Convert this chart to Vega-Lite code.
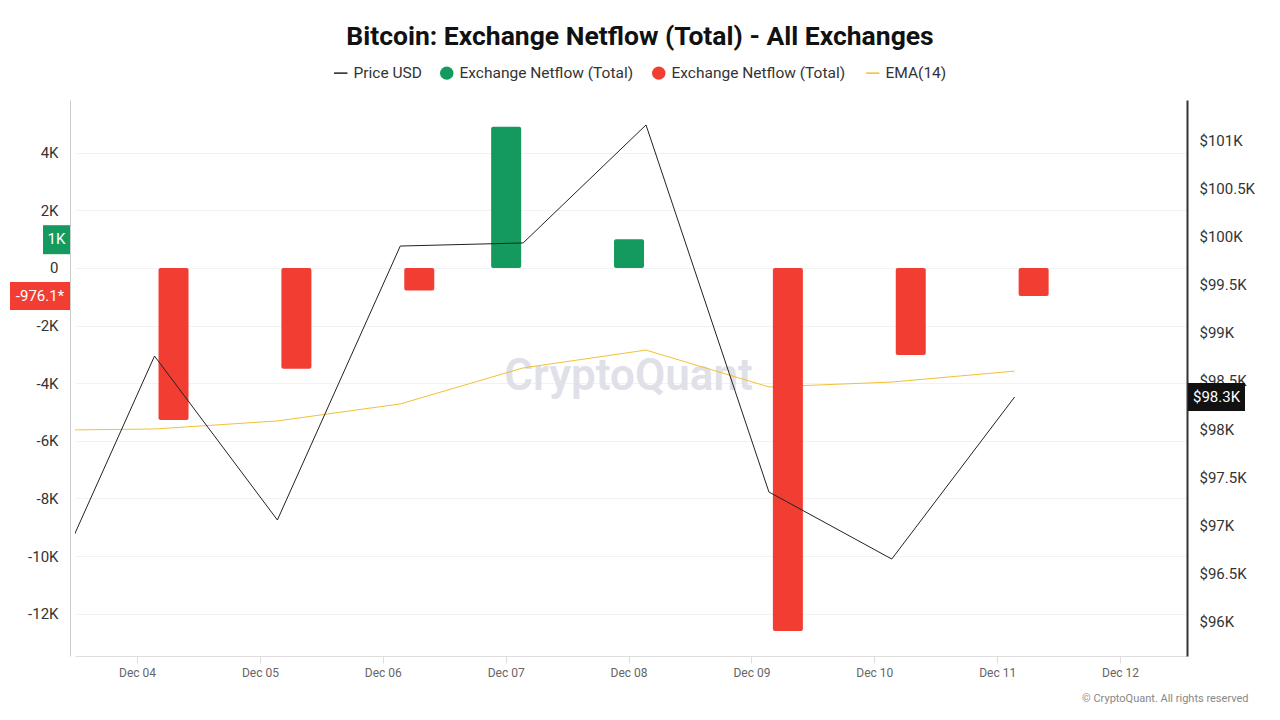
{
  "$schema": "https://vega.github.io/schema/vega-lite/v6.json",
  "width": 1112,
  "height": 556,
  "autosize": {"type": "none"},
  "padding": {"left": 75, "top": 100, "right": 93, "bottom": 64},
  "background": "white",
  "config": {"font": "Roboto", "view": {"stroke": null}},
  "title": {
    "text": "Bitcoin: Exchange Netflow (Total) - All Exchanges",
    "fontSize": 26.5,
    "fontWeight": "bold",
    "color": "#111111",
    "anchor": "middle",
    "frame": "group",
    "dx": 9,
    "offset": 15
  },
  "data": {
    "values": [
      {"date": "2024-12-03T03:25:00", "price": 95917, "netflow": null, "ema": -5640},
      {"date": "2024-12-04T03:25:00", "price": 98759, "netflow": -5280, "ema": -5590},
      {"date": "2024-12-05T03:25:00", "price": 97058, "netflow": -3500, "ema": -5310},
      {"date": "2024-12-06T03:25:00", "price": 99900, "netflow": -780, "ema": -4720},
      {"date": "2024-12-07T03:25:00", "price": 99932, "netflow": 4900, "ema": -3470},
      {"date": "2024-12-08T03:25:00", "price": 101156, "netflow": 1000, "ema": -2850},
      {"date": "2024-12-09T03:25:00", "price": 97349, "netflow": -12600, "ema": -4130},
      {"date": "2024-12-10T03:25:00", "price": 96653, "netflow": -3020, "ema": -3960},
      {"date": "2024-12-11T03:25:00", "price": 98334, "netflow": -976.1, "ema": -3580}
    ]
  },
  "layer": [
    {
      "layer": [
        {
          "data": {"values": [{"t": "CryptoQuant"}]},
          "mark": {"type": "text", "fontSize": 44, "fontWeight": 600, "color": "#e0e0e8", "align": "center", "baseline": "middle"},
          "encoding": {
            "x": {
              "datum": {"year": 2024, "month": 12, "date": 8},
              "type": "temporal",
              "scale": {"domain": [{"year": 2024, "month": 12, "date": 3, "hours": 11, "minutes": 53}, {"year": 2024, "month": 12, "date": 12, "hours": 13, "minutes": 5}], "padding": 0, "nice": false},
              "axis": {
                "orient": "bottom",
                "tickCount": {"interval": "day", "step": 1},
                "format": "%b %d",
                "labelFontSize": 12,
                "labelColor": "#666666",
                "tickColor": "#dddddd",
                "tickSize": 7,
                "domainColor": "#dddddd",
                "labelPadding": 4,
                "grid": false,
                "title": "© CryptoQuant. All rights reserved",
                "titleFontSize": 11,
                "titleColor": "#888888",
                "titleFontWeight": "normal",
                "titleAnchor": "end",
                "titleAlign": "right",
                "titleX": 1173,
                "titleY": 42,
                "titleBaseline": "middle"
              }
            },
            "y": {
              "datum": -3800,
              "type": "quantitative",
              "scale": {"domain": [-13472, 5833], "nice": false, "zero": false},
              "axis": {
                "orient": "left",
                "values": [-12000, -10000, -8000, -6000, -4000, -2000, 0, 2000, 4000],
                "labelExpr": "datum.value == 0 ? '0' : (datum.value / 1000) + 'K'",
                "offset": 5,
                "domainColor": "#cccccc",
                "ticks": false,
                "labelPadding": 12,
                "labelFontSize": 15,
                "labelColor": "#333333",
                "grid": true,
                "gridColor": "#f2f2f2",
                "title": null
              }
            },
            "text": {"field": "t"}
          }
        },
        {
          "mark": {"type": "line", "strokeWidth": 1, "clip": true},
          "encoding": {
            "x": {"field": "date", "type": "temporal"},
            "y": {"field": "ema", "type": "quantitative"},
            "color": {
              "datum": "EMA(14)",
              "type": "nominal",
              "scale": {
                "domain": ["Price USD", "Netflow+", "Netflow-", "EMA(14)"],
                "range": ["#222222", "#149a5e", "#f23d32", "#f2c037"]
              },
              "legend": {
                "orient": "none",
                "legendX": 258,
                "legendY": -35,
                "direction": "horizontal",
                "title": null,
                "labelFontSize": 15.5,
                "labelLimit": 400,
                "labelColor": "#333333",
                "symbolSize": 180,
                "columnPadding": 17,
                "labelOffset": 5,
                "labelExpr": "indexof(datum.label, 'Netflow') == 0 ? 'Exchange Netflow (Total)' : datum.label",
                "encode": {
                  "symbols": {
                    "update": {
                      "shape": {"signal": "datum.value == 'Price USD' || datum.value == 'EMA(14)' ? 'stroke' : 'circle'"},
                      "fill": {"signal": "datum.value == 'Price USD' || datum.value == 'EMA(14)' ? 'transparent' : scale('color', datum.value)"},
                      "stroke": {"signal": "scale('color', datum.value)"},
                      "strokeWidth": {"signal": "datum.value == 'Price USD' || datum.value == 'EMA(14)' ? 1.5 : 0"},
                      "opacity": {"value": 1},
                      "fillOpacity": {"value": 1}
                    }
                  }
                }
              }
            }
          }
        },
        {
          "transform": [{"filter": "datum.netflow > 0"}],
          "mark": {"type": "bar", "width": 30, "xOffset": -17, "cornerRadius": 2, "clip": true},
          "encoding": {
            "x": {"field": "date", "type": "temporal"},
            "y": {"field": "netflow", "type": "quantitative", "stack": null},
            "color": {"datum": "Netflow+", "type": "nominal"}
          }
        },
        {
          "transform": [{"filter": "datum.netflow < 0"}],
          "mark": {"type": "bar", "width": 30, "xOffset": 19, "cornerRadius": 2, "clip": true},
          "encoding": {
            "x": {"field": "date", "type": "temporal"},
            "y": {"field": "netflow", "type": "quantitative", "stack": null},
            "color": {"datum": "Netflow-", "type": "nominal"}
          }
        },
        {
          "data": {"values": [{"value": 1000, "label": "1K"}]},
          "mark": {"type": "rect", "color": "#149a5e", "xOffset": -32, "x2Offset": -5, "yOffset": -14, "y2Offset": 15},
          "encoding": {
            "x": {"datum": {"year": 2024, "month": 12, "date": 3, "hours": 11, "minutes": 53}, "type": "temporal"},
            "x2": {"datum": {"year": 2024, "month": 12, "date": 3, "hours": 11, "minutes": 53}},
            "y": {"field": "value", "type": "quantitative"},
            "y2": {"field": "value"}
          }
        },
        {
          "data": {"values": [{"value": 1000, "label": "1K"}]},
          "mark": {"type": "text", "color": "white", "fontSize": 15, "xOffset": -18.5, "align": "center", "baseline": "middle"},
          "encoding": {
            "x": {"datum": {"year": 2024, "month": 12, "date": 3, "hours": 11, "minutes": 53}, "type": "temporal"},
            "y": {"field": "value", "type": "quantitative"},
            "text": {"field": "label"}
          }
        },
        {
          "data": {"values": [{"value": -976.1, "label": "-976.1*"}]},
          "mark": {"type": "rect", "color": "#f23d32", "xOffset": -65, "x2Offset": -5, "yOffset": -14, "y2Offset": 14},
          "encoding": {
            "x": {"datum": {"year": 2024, "month": 12, "date": 3, "hours": 11, "minutes": 53}, "type": "temporal"},
            "x2": {"datum": {"year": 2024, "month": 12, "date": 3, "hours": 11, "minutes": 53}},
            "y": {"field": "value", "type": "quantitative"},
            "y2": {"field": "value"}
          }
        },
        {
          "data": {"values": [{"value": -976.1, "label": "-976.1*"}]},
          "mark": {"type": "text", "color": "white", "fontSize": 15, "xOffset": -35, "align": "center", "baseline": "middle"},
          "encoding": {
            "x": {"datum": {"year": 2024, "month": 12, "date": 3, "hours": 11, "minutes": 53}, "type": "temporal"},
            "y": {"field": "value", "type": "quantitative"},
            "text": {"field": "label"}
          }
        }
      ]
    },
    {
      "layer": [
        {
          "mark": {"type": "line", "strokeWidth": 1, "clip": true},
          "encoding": {
            "x": {"field": "date", "type": "temporal"},
            "y": {
              "field": "price",
              "type": "quantitative",
              "scale": {"domain": [95647, 101415], "nice": false, "zero": false},
              "axis": {
                "orient": "right",
                "values": [96000, 96500, 97000, 97500, 98000, 98500, 99000, 99500, 100000, 100500, 101000],
                "labelExpr": "'$' + (datum.value / 1000) + 'K'",
                "domainColor": "#333333",
                "domainWidth": 2,
                "ticks": false,
                "labelPadding": 12,
                "labelFontSize": 15,
                "labelColor": "#333333",
                "grid": false,
                "title": null
              }
            },
            "color": {"datum": "Price USD", "type": "nominal"}
          }
        },
        {
          "data": {"values": [{"value": 98334, "label": "$98.3K"}]},
          "mark": {"type": "rect", "color": "#111111", "xOffset": 1, "x2Offset": 58, "yOffset": -14, "y2Offset": 14},
          "encoding": {
            "x": {"datum": {"year": 2024, "month": 12, "date": 12, "hours": 13, "minutes": 5}, "type": "temporal"},
            "x2": {"datum": {"year": 2024, "month": 12, "date": 12, "hours": 13, "minutes": 5}},
            "y": {"field": "value", "type": "quantitative"},
            "y2": {"field": "value"}
          }
        },
        {
          "data": {"values": [{"value": 98334, "label": "$98.3K"}]},
          "mark": {"type": "text", "color": "white", "fontSize": 15, "xOffset": 29.5, "align": "center", "baseline": "middle"},
          "encoding": {
            "x": {"datum": {"year": 2024, "month": 12, "date": 12, "hours": 13, "minutes": 5}, "type": "temporal"},
            "y": {"field": "value", "type": "quantitative"},
            "text": {"field": "label"}
          }
        }
      ]
    }
  ],
  "resolve": {"scale": {"y": "independent"}, "axis": {"y": "independent"}}
}
